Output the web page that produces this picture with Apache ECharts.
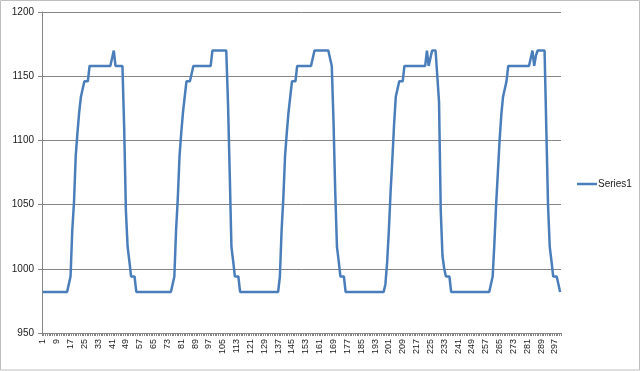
<!DOCTYPE html>
<html>
<head>
<meta charset="utf-8">
<script src="https://cdn.jsdelivr.net/npm/echarts@6/dist/echarts.min.js"></script>
<style>
html,body{margin:0;padding:0;background:#fff;}
#chart{width:640px;height:371px;}
</style>
</head>
<body>
<div id="chart"></div>
<script>
// Category labels 1..300
const categories = Array.from({length: 300}, (_, i) => String(i + 1));
const seriesName = 'Series1';
const yTicks = [950, 1000, 1050, 1100, 1150, 1200];

// Values, point by point (index 1..300)
const cycle1 = [
  982,982,982,982,982,982,982,982,982,982,982,982,982,982,982,982,
  994,1030,1052,1088,1106,1122,1134,1134,1146,1146,1146,
  1158,1158,1158,1158,1158,1158,1158,1158,1158,1158,1158,1158,1158,1158,
  1170,
  1158,1158,1158,1158,1158,
  1110,1045,1017,1006,994,994,994,982
];
const cycle2 = [
  982,982,982,982,982,982,982,982,982,982,982,982,982,982,982,982,982,982,982,982,982,
  994,1030,1055,1088,1106,1122,1134,1146,1146,1146,1146,
  1158,1158,1158,1158,1158,1158,1158,1158,1158,1158,1158,
  1170,1170,1170,1170,1170,1170,1170,1170,1170,
  1130,1075,1017,1006,994,994,994,982
];
const cycle3 = [
  982,982,982,982,982,982,982,982,982,982,982,982,982,982,982,982,982,982,982,982,982,982,
  994,1030,1055,1088,1106,1122,1134,1146,1146,1146,
  1158,1158,1158,1158,1158,1158,1158,1158,1158,1158,
  1170,1170,1170,1170,1170,1170,1170,1170,1170,1170,
  1158,1115,1060,1017,1006,994,994,994,982
];
const cycle4 = [
  982,982,982,982,982,982,982,982,982,982,982,982,982,982,982,982,982,982,982,982,982,982,
  988,1005,1030,1060,1085,1112,1134,1134,1146,1146,1146,
  1158,1158,1158,1158,1158,1158,1158,1158,1158,1158,1158,1158,1158,
  1170,1158,1164,1170,
  1170,1170,1170,
  1130,1045,1010,1000,994,994,994,982
];
const cycle5 = [
  982,982,982,982,982,982,982,982,982,982,982,982,982,982,982,982,982,982,982,982,982,982,982,
  994,1020,1050,1075,1100,1120,1134,1134,1146,
  1158,1158,1158,1158,1158,1158,1158,1158,1158,1158,1158,1158,1158,1158,
  1170,1158,1166,1170,
  1170,1170,1170,1170,
  1110,1050,1017,1006,994,994,994,994,982
];
const values = [].concat(cycle1, cycle2, cycle3, cycle4, cycle5);

const chart = echarts.init(document.getElementById('chart'), null, {renderer: 'canvas'});
const font = '"Liberation Sans Narrow", "Liberation Sans", Arial, sans-serif';
chart.setOption({
  animation: false,
  backgroundColor: '#ffffff',
  graphic: [{
    type: 'rect',
    shape: {x: 0.5, y: 0.5, width: 639, height: 369.5},
    style: {fill: 'none', stroke: '#bfbfbf', lineWidth: 1},
    silent: true
  }],
  grid: {left: 42, right: 79, top: 12, bottom: 38, containLabel: false},
  legend: {
    show: true,
    data: [{name: seriesName, icon: 'rect'}],
    left: 577,
    top: 179,
    padding: 0,
    itemWidth: 20,
    itemHeight: 2.5,
    itemGap: 2,
    textStyle: {fontFamily: font, fontSize: 10, color: '#1a1a1a', padding: [0,0,0,-4]}
  },
  xAxis: {
    type: 'category',
    data: categories,
    boundaryGap: true,
    axisLine: {show: true, lineStyle: {color: '#868686', width: 1}},
    axisTick: {show: true, interval: 0, length: 3, lineStyle: {color: '#868686'}},
    axisLabel: {interval: 7, rotate: 90, fontSize: 9, fontFamily: font, color: '#1a1a1a', margin: 6},
    splitLine: {show: false}
  },
  yAxis: {
    type: 'value',
    min: yTicks[0],
    max: yTicks[yTicks.length - 1],
    interval: 50,
    axisLine: {show: true, lineStyle: {color: '#868686', width: 1}},
    axisTick: {show: true, length: 4, lineStyle: {color: '#868686'}},
    axisLabel: {fontSize: 10, fontFamily: font, color: '#1a1a1a', margin: 8, formatter: (v) => String(v)},
    splitLine: {show: true, lineStyle: {color: '#868686', width: 1}}
  },
  series: [{
    name: seriesName,
    type: 'line',
    data: values,
    symbol: 'none',
    showSymbol: false,
    lineStyle: {color: '#4a7ebb', width: 2.5},
    itemStyle: {color: '#4a7ebb'}
  }]
});
</script>
</body>
</html>
